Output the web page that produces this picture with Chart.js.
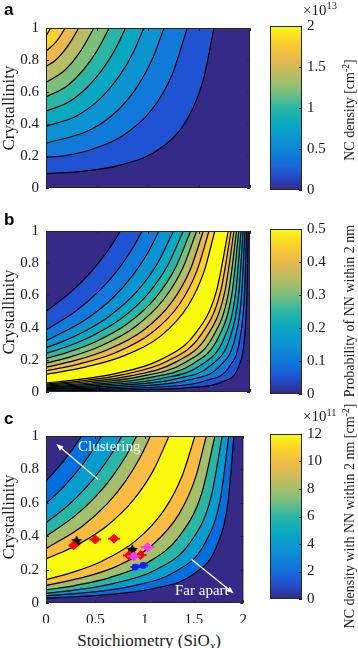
<!DOCTYPE html>
<html><head><meta charset="utf-8">
<script src="https://cdn.jsdelivr.net/npm/chart.js@4.4.1/dist/chart.umd.min.js"></script>
<style>
html,body{margin:0;padding:0;background:#fff;}
#wrap{position:relative;width:358px;height:648px;overflow:hidden;background:#fff;}
canvas{position:absolute;}
.t{position:absolute;white-space:nowrap;line-height:1;font-family:'Liberation Serif','Times New Roman',serif;color:#1a1a1a;}
.rot{transform:translate(-50%,-50%) rotate(-90deg);}
.sup{font-size:70%;position:relative;top:-0.5em;}
.sub{font-size:70%;position:relative;top:0.3em;}
.p{font-family:'Liberation Sans',Arial,sans-serif;font-weight:bold;font-size:17px;color:#000;}
</style></head><body>
<div id="wrap">
<canvas id="ca" width="255" height="192" style="left:0;top:12px"></canvas>
<canvas id="cb" width="255" height="193" style="left:0;top:215px"></canvas>
<canvas id="cc" width="255" height="208" style="left:0;top:420px"></canvas>
<canvas id="ka" width="75" height="192" style="left:270px;top:12px"></canvas>
<canvas id="kb" width="75" height="193" style="left:270px;top:215px"></canvas>
<canvas id="kc" width="75" height="193" style="left:270px;top:420px"></canvas>

<div class="t p" style="left:4px;top:1px">a</div>
<div class="t p" style="left:4px;top:211px">b</div>
<div class="t p" style="left:4px;top:410px">c</div>

<div class="t rot" style="left:7.6px;top:108px;font-size:17px">Crystallinity</div>
<div class="t rot" style="left:7.6px;top:311.5px;font-size:17px">Crystallinity</div>
<div class="t rot" style="left:7.6px;top:516.5px;font-size:17px">Crystallinity</div>

<div class="t" style="left:149px;top:632px;font-size:17px;transform:translateX(-50%)">Stoichiometry (SiO<span class="sub"><i>x</i></span>)</div>

<div class="t" style="left:303px;top:2.5px;font-size:15px">×10<span class="sup">13</span></div>
<div class="t" style="left:303px;top:409px;font-size:15px">×10<span class="sup">11</span></div>

<div class="t rot" style="left:350.3px;top:110px;font-size:14px">NC density [cm<span class="sup">-2</span>]</div>
<div class="t rot" style="left:350.3px;top:311px;font-size:14px">Probability of NN within 2 nm</div>
<div class="t rot" style="left:350.3px;top:516px;font-size:14px">NC density with NN within 2 nm [cm<span class="sup">-2</span>]</div>

<div class="t" style="left:78px;top:438.5px;font-size:15px;color:#fff">Clustering</div>
<div class="t" style="left:175px;top:583px;font-size:15px;color:#fff">Far apart</div>
</div>

<script>
// ---------- axis ticks ----------
const xTickValues = [0, 0.5, 1, 1.5, 2];
const yTickValues = [0, 0.2, 0.4, 0.6, 0.8, 1];
const cbarTicksA = [0, 0.5, 1, 1.5, 2];
const cbarTicksB = [0, 0.1, 0.2, 0.3, 0.4, 0.5];
const cbarTicksC = [0, 2, 4, 6, 8, 10, 12];
const cbarMaxA = 2, cbarMaxB = 0.5, cbarMaxC = 12;

// ---------- panel a: NC density contours [stoichiometry, crystallinity] ----------
const contourA1 = [[0,0.09],[0.378,0.106],[0.755,0.148],[1.115,0.245],[1.383,0.428],[1.541,0.674],[1.647,1]];
const contourA2 = [[0,0.19],[0.202,0.204],[0.453,0.242],[0.756,0.328],[1.039,0.491],[1.237,0.71],[1.385,1]];
const contourA3 = [[0,0.28],[0.431,0.362],[0.709,0.489],[0.903,0.641],[1.047,0.813],[1.157,1]];
const contourA4 = [[0,0.385],[0.312,0.455],[0.539,0.563],[0.713,0.694],[0.85,0.84],[0.96,1]];
const contourA5 = [[0,0.48],[0.227,0.539],[0.407,0.631],[0.554,0.741],[0.677,0.865],[0.78,1]];
const contourA6 = [[0,0.57],[0.202,0.636],[0.367,0.739],[0.504,0.862],[0.62,1]];
const contourA7 = [[0,0.66],[0.184,0.736],[0.337,0.854],[0.47,1]];
const contourA8 = [[0,0.76],[0.091,0.797],[0.174,0.854],[0.25,0.923],[0.32,1]];
const contourA9 = [[0,0.855],[0.1,0.915],[0.19,1]];
const contourA10 = [[0,0.95],[0.046,1]];

// ---------- panel b: probability contours (rising side D, falling side A) ----------
const contourB_D1 = [[0,0.006],[0.361,0.008],[0.71,0.011],[1.048,0.016],[1.375,0.026],[1.737,0.066],[1.886,0.155],[1.945,0.324],[1.97,0.602],[1.982,1]];
const contourB_D2 = [[0,0.011],[0.459,0.016],[0.747,0.021],[1.088,0.031],[1.563,0.07],[1.799,0.159],[1.901,0.328],[1.946,0.604],[1.967,1]];
const contourB_D3 = [[0,0.016],[0.326,0.021],[0.561,0.026],[0.876,0.036],[1.401,0.075],[1.708,0.164],[1.852,0.331],[1.918,0.606],[1.95,1]];
const contourB_D4 = [[0,0.021],[0.443,0.031],[0.725,0.041],[1.261,0.08],[1.62,0.168],[1.802,0.334],[1.889,0.608],[1.932,1]];
const contourB_D5 = [[0,0.026],[0.606,0.046],[1.132,0.084],[1.53,0.172],[1.749,0.338],[1.858,0.61],[1.912,1]];
const contourB_D6 = [[0,0.031],[0.511,0.05],[1.015,0.089],[1.441,0.176],[1.692,0.341],[1.823,0.612],[1.89,1]];
const contourB_D7 = [[0,0.037],[0.441,0.056],[0.918,0.095],[1.36,0.182],[1.638,0.345],[1.789,0.615],[1.868,1]];
const contourB_D8 = [[0,0.043],[0.38,0.062],[0.827,0.1],[1.276,0.187],[1.58,0.349],[1.751,0.617],[1.843,1]];
const contourB_D9 = [[0,0.049],[0.328,0.068],[0.741,0.106],[1.191,0.192],[1.517,0.353],[1.71,0.62],[1.815,1]];
const contourB_D10 = [[0,0.056],[0.287,0.075],[0.67,0.113],[1.114,0.198],[1.457,0.358],[1.669,0.622],[1.787,1]];
const contourB_A10 = [[0,0.11],[0.387,0.155],[0.768,0.226],[1.129,0.35],[1.394,0.537],[1.551,0.751],[1.655,1]];
const contourB_A9 = [[0,0.131],[0.332,0.175],[0.681,0.244],[1.035,0.366],[1.312,0.548],[1.482,0.757],[1.598,1]];
const contourB_A8 = [[0,0.154],[0.288,0.196],[0.609,0.264],[0.952,0.382],[1.235,0.56],[1.416,0.763],[1.542,1]];
const contourB_A7 = [[0,0.179],[0.247,0.22],[0.537,0.286],[0.865,0.401],[1.151,0.573],[1.341,0.77],[1.477,1]];
const contourB_A6 = [[0,0.208],[0.217,0.248],[0.481,0.311],[0.794,0.422],[1.078,0.588],[1.274,0.778],[1.418,1]];
const contourB_A5 = [[0,0.24],[0.187,0.278],[0.422,0.339],[0.714,0.445],[0.994,0.605],[1.194,0.787],[1.346,1]];
const contourB_A4 = [[0,0.275],[0.154,0.311],[0.356,0.369],[0.621,0.471],[0.889,0.623],[1.091,0.797],[1.25,1]];
const contourB_A3 = [[0,0.317],[0.398,0.454],[0.664,0.59],[0.854,0.727],[0.997,0.863],[1.108,1]];
const contourB_A2 = [[0,0.385],[0.303,0.508],[0.527,0.631],[0.698,0.754],[0.834,0.877],[0.944,1]];
const contourB_A1 = [[0,0.5],[0.251,0.625],[0.447,0.75],[0.603,0.875],[0.73,1]];

// ---------- panel c: NC density with NN within 2 nm ----------
const contourC_D1 = [[0,0.029],[0.334,0.039],[0.668,0.053],[1.092,0.087],[1.501,0.175],[1.73,0.34],[1.847,0.612],[1.905,1]];
const contourC_D2 = [[0,0.043],[0.403,0.062],[0.861,0.1],[1.308,0.187],[1.603,0.349],[1.766,0.617],[1.853,1]];
const contourC_D3 = [[0,0.058],[0.287,0.077],[0.67,0.115],[1.114,0.199],[1.457,0.359],[1.669,0.623],[1.787,1]];
const contourC_D4 = [[0,0.078],[0.304,0.106],[0.646,0.152],[1.036,0.244],[1.353,0.401],[1.575,0.65],[1.713,1]];
const contourC_D5 = [[0,0.105],[0.356,0.15],[0.721,0.221],[1.078,0.347],[1.351,0.535],[1.515,0.749],[1.625,1]];
const contourC_D6 = [[0,0.14],[0.267,0.183],[0.572,0.252],[0.908,0.372],[1.193,0.553],[1.379,0.759],[1.51,1]];
const contourC_A6 = [[0,0.265],[0.153,0.302],[0.355,0.36],[0.619,0.463],[0.887,0.618],[1.089,0.794],[1.248,1]];
const contourC_A5 = [[0,0.325],[0.368,0.46],[0.622,0.595],[0.807,0.73],[0.948,0.865],[1.06,1]];
const contourC_A4 = [[0,0.4],[0.291,0.52],[0.508,0.64],[0.676,0.76],[0.811,0.88],[0.92,1]];
const contourC_A3 = [[0,0.48],[0.223,0.584],[0.401,0.688],[0.546,0.792],[0.667,0.896],[0.77,1]];
const contourC_A2 = [[0,0.595],[0.179,0.696],[0.329,0.798],[0.456,0.899],[0.565,1]];
const contourC_A1 = [[0,0.73],[0.135,0.819],[0.253,0.908],[0.36,1]];

// ---------- panel c: measured samples [stoichiometry, crystallinity], x error ----------
const redX = [0.28, 0.5, 0.69, 0.84, 0.96];
const redY = [0.345, 0.38, 0.385, 0.285, 0.287];
const redErr = [0.05, 0.06, 0.06, 0.06, 0.06];
const blackX = [0.31, 0.875];
const blackY = [0.37, 0.318];
const blackErr = [0.03, 0.04];
const magentaX = [1.03, 0.89];
const magentaY = [0.334, 0.28];
const magentaErr = [0.07, 0.07];
const blueX = [0.905, 0.985];
const blueY = [0.215, 0.225];
const blueErr = [0.05, 0.05];

// annotation arrows (data coordinates: tail -> head)
const arrowClustering = [[0.529, 0.74], [0.105, 0.952]];
const arrowFarApart = [[1.477, 0.26], [1.902, 0.058]];

// ---------- styles ----------
const parula = ['#352a87','#2053d4','#1079da','#0c93d2','#07a9c2','#29b6a7','#7cbf7b','#b7bd64','#e9b94e','#fcce2e','#f9fb0e'];
const cBands = ['#352a87','#036fdf','#079ccf','#29b6a7','#a5be6b','#fbbd41','#f9fb0e'];
const serif = "'Liberation Serif','Times New Roman',serif";
const txt = '#1a1a1a';

const framePlugin = {
  id: 'frame',
  beforeDatasetsDraw(chart, args, o) {
    if (!o.bg) return;
    const a = chart.chartArea, ctx = chart.ctx;
    ctx.save(); ctx.fillStyle = o.bg;
    ctx.fillRect(a.left, a.top, a.right - a.left, a.bottom - a.top);
    ctx.restore();
  },
  afterDraw(chart, args, o) {
    const a = chart.chartArea, ctx = chart.ctx, L = 3;
    ctx.save();
    ctx.strokeStyle = '#262626'; ctx.lineWidth = 1;
    ctx.strokeRect(a.left + 0.5, a.top + 0.5, a.right - a.left - 1, a.bottom - a.top - 1);
    ctx.beginPath();
    if (o.xTicks) {
      const xs = chart.scales.x;
      o.xTicks.forEach(v => { const p = Math.round(xs.getPixelForValue(v)) + 0.5;
        ctx.moveTo(p, a.bottom); ctx.lineTo(p, a.bottom - L); ctx.moveTo(p, a.top); ctx.lineTo(p, a.top + L); });
    }
    if (o.yTicks) {
      const ys = chart.scales.y;
      o.yTicks.forEach(v => { const p = Math.round(ys.getPixelForValue(v)) + 0.5;
        if (!o.rightOnly) { ctx.moveTo(a.left, p); ctx.lineTo(a.left + L, p); }
        ctx.moveTo(a.right, p); ctx.lineTo(a.right - L, p); });
    }
    ctx.stroke(); ctx.restore();
  }
};

const markPlugin = {
  id: 'marks',
  beforeDatasetDraw(chart, args) {
    const ds = chart.data.datasets[args.index];
    if (!ds.xErr) return;
    const ctx = chart.ctx, xs = chart.scales.x, ys = chart.scales.y;
    ctx.save(); ctx.strokeStyle = ds.errColor; ctx.lineWidth = 2;
    ds.data.forEach((p, i) => {
      const y = ys.getPixelForValue(p.y), x = xs.getPixelForValue(p.x);
      ctx.beginPath();
      ctx.moveTo(xs.getPixelForValue(p.x - ds.xErr[i]), y); ctx.lineTo(xs.getPixelForValue(p.x + ds.xErr[i]), y);
      ctx.moveTo(x, ys.getPixelForValue(p.y - 0.02)); ctx.lineTo(x, ys.getPixelForValue(p.y + 0.02));
      ctx.stroke();
    });
    ctx.restore();
  },
  afterDatasetsDraw(chart, args, o) {
    if (!o.arrows) return;
    const ctx = chart.ctx, xs = chart.scales.x, ys = chart.scales.y;
    ctx.save(); ctx.strokeStyle = '#fff'; ctx.fillStyle = '#fff'; ctx.lineWidth = 1.3;
    o.arrows.forEach(([t, h]) => {
      const x0 = xs.getPixelForValue(t[0]), y0 = ys.getPixelForValue(t[1]);
      const x1 = xs.getPixelForValue(h[0]), y1 = ys.getPixelForValue(h[1]);
      const ang = Math.atan2(y1 - y0, x1 - x0), hl = 7, hw = 2.8;
      const bx = x1 - hl * Math.cos(ang), by = y1 - hl * Math.sin(ang);
      ctx.beginPath(); ctx.moveTo(x0, y0); ctx.lineTo(bx, by); ctx.stroke();
      ctx.beginPath(); ctx.moveTo(x1, y1);
      ctx.lineTo(bx + hw * Math.sin(ang), by - hw * Math.cos(ang));
      ctx.lineTo(bx - hw * Math.sin(ang), by + hw * Math.cos(ang));
      ctx.closePath(); ctx.fill();
    });
    ctx.restore();
  }
};

function contourSets(lines, colors) {
  return lines.map((pts, i) => ({
    type: 'line',
    data: pts.map(p => ({x: p[0], y: p[1]})),
    borderColor: '#000', borderWidth: 1.2, pointRadius: 0,
    fill: 'end', backgroundColor: colors[i],
    cubicInterpolationMode: 'monotone',
    order: 1000 - i
  }));
}

function markerSet(xs, ys, errs, color, style, radius) {
  return {
    type: 'line', showLine: false, fill: false,
    data: xs.map((x, i) => ({x: x, y: ys[i]})),
    xErr: errs, errColor: color,
    pointStyle: style, pointRadius: radius, pointBackgroundColor: color, pointBorderColor: color,
    pointBorderWidth: 1, borderColor: color, order: 0
  };
}

function starStyle(color, r) {
  const c = document.createElement('canvas'); c.width = c.height = 2 * r + 2;
  const g = c.getContext('2d'); g.fillStyle = color; g.beginPath();
  for (let k = 0; k < 10; k++) {
    const rad = k % 2 === 0 ? r : r * 0.45, a = -Math.PI / 2 + k * Math.PI / 5;
    g.lineTo(r + 1 + rad * Math.cos(a), r + 1 + rad * Math.sin(a));
  }
  g.closePath(); g.fill();
  return c;
}

function mainChart(id, datasets, showX, extra) {
  return new Chart(document.getElementById(id), {
    type: 'line',
    data: {datasets},
    options: {
      responsive: false, animation: false, devicePixelRatio: 1,
      layout: {padding: {left: 0, right: 5, top: 10, bottom: showX ? 5 : 10}},
      plugins: {legend: {display: false}, tooltip: {enabled: false},
        frame: {bg: parula[0], xTicks: xTickValues, yTicks: yTickValues},
        marks: extra || {}},
      scales: {
        x: {type: 'linear', min: 0, max: 2,
          afterBuildTicks: s => { s.ticks = xTickValues.map(v => ({value: v})); },
          ticks: {display: showX, font: {family: serif, size: 15}, color: txt, padding: 8, maxRotation: 0, callback: v => String(v)},
          grid: {display: false, drawTicks: false}, border: {display: false},
          afterFit: s => { s.height = showX ? 20 : 0; }},
        y: {type: 'linear', min: 0, max: 1,
          afterBuildTicks: s => { s.ticks = yTickValues.map(v => ({value: v})); },
          ticks: {font: {family: serif, size: 15}, color: txt, padding: 7, callback: v => String(v)},
          grid: {display: false, drawTicks: false}, border: {display: false},
          afterFit: s => { s.width = 46; }}
      }
    },
    plugins: [framePlugin, markPlugin]
  });
}

function colorbar(id, maxV, ticks) {
  return new Chart(document.getElementById(id), {
    type: 'bar',
    data: {labels: [''], datasets: [{data: [maxV], barPercentage: 1, categoryPercentage: 1, borderWidth: 0, inflateAmount: 0,
      backgroundColor: ctx => {
        const a = ctx.chart.chartArea; if (!a) return parula[0];
        const g = ctx.chart.ctx.createLinearGradient(0, a.bottom, 0, a.top);
        parula.forEach((c, i) => g.addColorStop(i / (parula.length - 1), c));
        return g;
      }}]},
    options: {
      responsive: false, animation: false, devicePixelRatio: 1,
      layout: {padding: {left: 0, right: 0, top: 10, bottom: 10}},
      plugins: {legend: {display: false}, tooltip: {enabled: false}, frame: {yTicks: ticks, rightOnly: true}},
      scales: {
        x: {display: false},
        y: {position: 'right', min: 0, max: maxV,
          afterBuildTicks: s => { s.ticks = ticks.map(v => ({value: v})); },
          ticks: {font: {family: serif, size: 15}, color: txt, padding: 5, callback: v => String(v)},
          grid: {display: false, drawTicks: false}, border: {display: false},
          afterFit: s => { s.width = 43; }}
      }
    },
    plugins: [framePlugin]
  });
}

const linesA = [contourA1, contourA2, contourA3, contourA4, contourA5, contourA6, contourA7, contourA8, contourA9, contourA10];
mainChart('ca', contourSets(linesA, parula.slice(1)), false);

const linesB = [contourB_D1, contourB_D2, contourB_D3, contourB_D4, contourB_D5, contourB_D6, contourB_D7, contourB_D8, contourB_D9, contourB_D10,
  contourB_A10, contourB_A9, contourB_A8, contourB_A7, contourB_A6, contourB_A5, contourB_A4, contourB_A3, contourB_A2, contourB_A1];
const colorsB = parula.slice(1).concat(parula.slice(0, 10).reverse());
mainChart('cb', contourSets(linesB, colorsB), false);

const linesC = [contourC_D1, contourC_D2, contourC_D3, contourC_D4, contourC_D5, contourC_D6,
  contourC_A6, contourC_A5, contourC_A4, contourC_A3, contourC_A2, contourC_A1];
const colorsC = cBands.slice(1).concat(cBands.slice(0, 6).reverse());
const setsC = contourSets(linesC, colorsC).concat([
  markerSet(blueX, blueY, blueErr, '#1a1aff', 'rect', 3.5),
  markerSet(magentaX, magentaY, magentaErr, '#ff33ff', 'rectRot', 4.5),
  markerSet(redX, redY, redErr, '#ff0000', 'rectRot', 4.5),
  markerSet(blackX, blackY, blackErr, '#000000', starStyle('#000', 6), 6)
]);
mainChart('cc', setsC, true, {arrows: [arrowClustering, arrowFarApart]});

colorbar('ka', cbarMaxA, cbarTicksA);
colorbar('kb', cbarMaxB, cbarTicksB);
colorbar('kc', cbarMaxC, cbarTicksC);
</script>
</body></html>
